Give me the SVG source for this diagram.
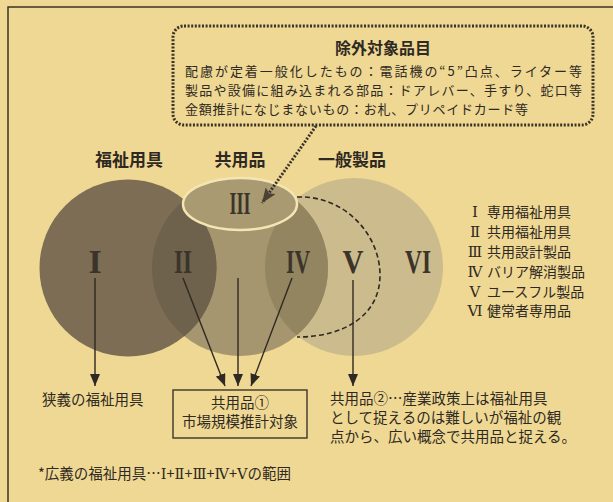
<svg xmlns="http://www.w3.org/2000/svg" width="613" height="502" viewBox="0 0 613 502">
<style>
.jp{font-family:"Noto Sans CJK JP","Noto Sans",sans-serif;fill:#2e2922}
.b{font-weight:bold}
.rn{font-family:"Liberation Serif","DejaVu Serif",serif;font-weight:bold;fill:#3b342b}
.sr{font-family:"Liberation Serif","DejaVu Serif","Noto Sans CJK JP",serif;fill:#2e2922}
.ln{stroke:#2e2922;stroke-width:1.4;fill:none}
.dot{stroke:#3a3328;stroke-width:3;fill:none;stroke-dasharray:2 1.6}
</style>
<defs>
<marker id="ah" viewBox="0 0 12 10" refX="12" refY="5" markerWidth="12" markerHeight="10" markerUnits="userSpaceOnUse" orient="auto"><path d="M0,0 L12,5 L0,10 z" fill="#2e2922"/></marker>
<marker id="ah2" viewBox="0 0 15 12" refX="15" refY="6" markerWidth="15" markerHeight="12" markerUnits="userSpaceOnUse" orient="auto"><path d="M0,0 L15,6 L0,12 L3,6 z" fill="#4a4236"/></marker>
<clipPath id="cm"><circle cx="240" cy="268" r="88"/></clipPath>
<clipPath id="cr"><circle cx="354" cy="267" r="89"/></clipPath>
</defs>
<rect width="613" height="502" fill="#efd893"/>
<path d="M8,502 V7 H613" fill="none" stroke="#3a3328" stroke-width="1.5"/>

<g id="exclusion-box">
<rect x="173" y="26" width="420" height="99" rx="11" class="dot"/>
<text x="383" y="54" class="jp b" font-size="16" text-anchor="middle">除外対象品目</text>
<text x="185" y="76" class="jp" font-size="13" textLength="397" lengthAdjust="spacing">配慮が定着一般化したもの：電話機の“5”凸点、ライター等</text>
<text x="185" y="95" class="jp" font-size="13" textLength="397" lengthAdjust="spacing">製品や設備に組み込まれる部品：ドアレバー、手すり、蛇口等</text>
<text x="185" y="114" class="jp" font-size="13" textLength="343" lengthAdjust="spacing">金額推計になじまないもの：お札、プリペイドカード等</text>
</g>

<g id="circle-general">
<circle cx="354" cy="267" r="89" fill="#ccbb8c"/>
</g>
<g id="circle-kyoyo">
<circle cx="240" cy="268" r="88" fill="#a5966f"/>
<circle cx="240" cy="268" r="88" fill="#938560" clip-path="url(#cr)"/>
</g>
<g id="circle-fukushi">
<circle cx="128" cy="268" r="88.5" fill="#7c6d54"/>
<circle cx="128" cy="268" r="88.5" fill="#6e624c" clip-path="url(#cm)"/>
</g>
<g id="region-III">
<ellipse cx="240" cy="204" rx="57" ry="26" fill="#a99a71" stroke="#f4e6b4" stroke-width="2.5"/>
</g>

<g id="headers">
<text x="129" y="166" class="jp b" font-size="17" text-anchor="middle">福祉用具</text>
<text x="240" y="166" class="jp b" font-size="17" text-anchor="middle">共用品</text>
<text x="352" y="166" class="jp b" font-size="17" text-anchor="middle">一般製品</text>
</g>

<g id="numerals">
<text x="95" y="273" class="rn" font-size="34" text-anchor="middle">I</text>
<text x="183" y="273" class="rn" font-size="34" text-anchor="middle" textLength="18" lengthAdjust="spacingAndGlyphs">II</text>
<text x="240" y="214" class="rn" font-size="32" text-anchor="middle" textLength="21" lengthAdjust="spacingAndGlyphs">III</text>
<text x="298" y="273" class="rn" font-size="34" text-anchor="middle" textLength="24" lengthAdjust="spacingAndGlyphs">IV</text>
<text x="353" y="273" class="rn" font-size="34" text-anchor="middle" textLength="21" lengthAdjust="spacingAndGlyphs">V</text>
<text x="418" y="273" class="rn" font-size="34" text-anchor="middle" textLength="26" lengthAdjust="spacingAndGlyphs">VI</text>
</g>

<g id="connectors">
<path d="M316,126 L262,203" fill="none" stroke="#3a3328" stroke-width="3" stroke-dasharray="2 1.6" marker-end="url(#ah2)"/>
<path d="M297,197 C345,195 380,235 380,275 C380,315 345,337 297,337" fill="none" stroke="#2e2922" stroke-width="1.6" stroke-dasharray="5 3"/>
<line x1="95" y1="278" x2="95" y2="386" class="ln" marker-end="url(#ah)"/>
<line x1="183" y1="278" x2="225" y2="386" class="ln" marker-end="url(#ah)"/>
<line x1="238" y1="278" x2="238" y2="386" class="ln" marker-end="url(#ah)"/>
<line x1="292" y1="278" x2="251" y2="386" class="ln" marker-end="url(#ah)"/>
<line x1="353" y1="280" x2="353" y2="386" class="ln" marker-end="url(#ah)"/>
</g>

<g id="legend">
<text x="475" y="217" class="sr" font-size="15" text-anchor="middle">Ⅰ</text>
<text x="487" y="217" class="jp" font-size="14">専用福祉用具</text>
<text x="475" y="237" class="sr" font-size="15" text-anchor="middle">Ⅱ</text>
<text x="487" y="237" class="jp" font-size="14">共用福祉用具</text>
<text x="475" y="257" class="sr" font-size="15" text-anchor="middle">Ⅲ</text>
<text x="487" y="257" class="jp" font-size="14">共用設計製品</text>
<text x="475" y="277" class="sr" font-size="15" text-anchor="middle">Ⅳ</text>
<text x="487" y="277" class="jp" font-size="14">バリア解消製品</text>
<text x="475" y="297" class="sr" font-size="15" text-anchor="middle">Ⅴ</text>
<text x="487" y="297" class="jp" font-size="14">ユースフル製品</text>
<text x="475" y="316" class="sr" font-size="15" text-anchor="middle">Ⅵ</text>
<text x="487" y="316" class="jp" font-size="14">健常者専用品</text>
</g>

<g id="narrow-welfare">
<text x="42" y="405" class="jp" font-size="14.5">狭義の福祉用具</text>
</g>
<g id="kyoyo-1">
<rect x="173" y="390" width="134" height="48" fill="none" stroke="#2e2922" stroke-width="1.3"/>
<text x="240" y="408" class="jp" font-size="14.5" text-anchor="middle">共用品①</text>
<text x="240" y="427" class="jp" font-size="14.5" text-anchor="middle">市場規模推計対象</text>
</g>
<g id="kyoyo-2">
<text x="330" y="404" class="jp" font-size="14.5">共用品②…産業政策上は福祉用具</text>
<text x="330" y="423" class="jp" font-size="14.5">として捉えるのは難しいが福祉の観</text>
<text x="330" y="442" class="jp" font-size="14.5">点から、広い概念で共用品と捉える。</text>
</g>
<g id="footnote">
<text x="38" y="479" class="jp" font-size="14.5">*広義の福祉用具…<tspan class="sr">Ⅰ</tspan>+<tspan class="sr">Ⅱ</tspan>+<tspan class="sr">Ⅲ</tspan>+<tspan class="sr">Ⅳ</tspan>+<tspan class="sr">Ⅴ</tspan>の範囲</text>
</g>
</svg>
